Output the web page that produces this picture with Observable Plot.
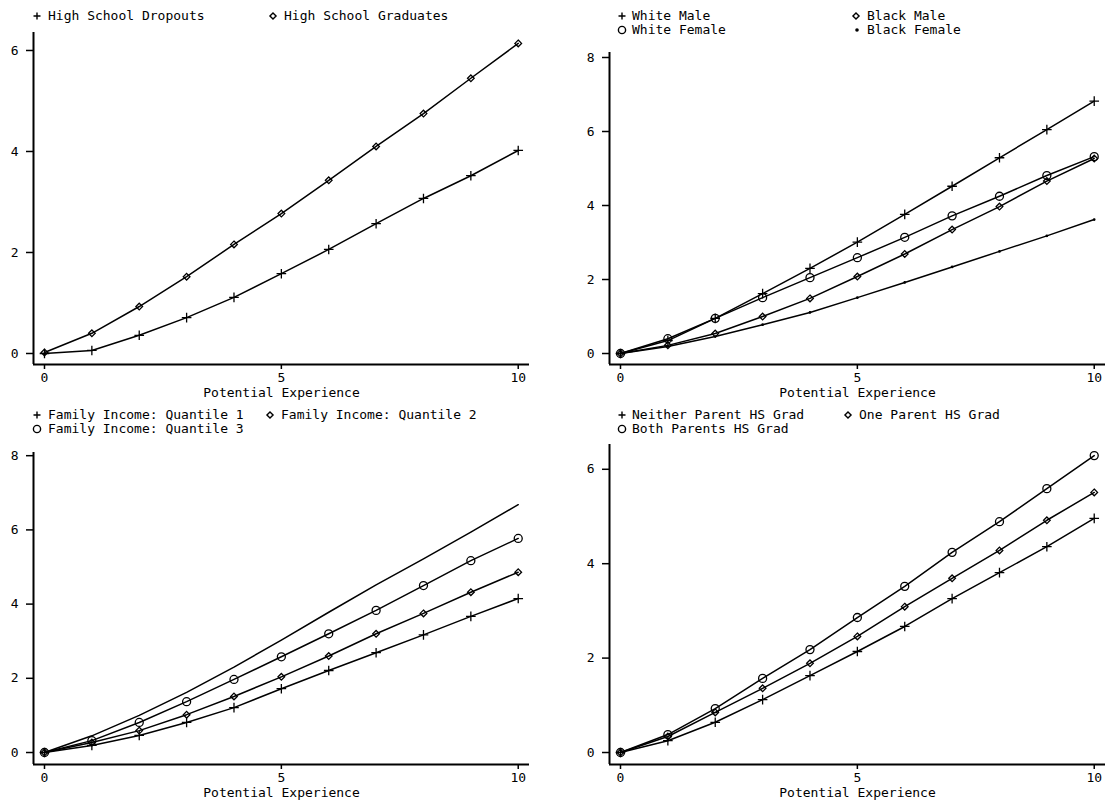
<!DOCTYPE html>
<html><head><meta charset="utf-8">
<script src="https://cdn.jsdelivr.net/npm/d3@7"></script>
<script src="https://cdn.jsdelivr.net/npm/@observablehq/plot@0.6"></script>
<style>
body{margin:0;background:#fff;}
#root{position:relative;width:1105px;height:801px;font-family:"DejaVu Sans Mono",monospace;color:#000;overflow:hidden;}
.panel{position:absolute;}
.legend{position:relative;}
.item{position:absolute;font-size:13px;line-height:14px;height:14px;white-space:pre;}
.icon{position:absolute;}
</style></head><body><div id="root"></div>
<script>
const experience = [0,1,2,3,4,5,6,7,8,9,10];
const xTicks = [0,5,10];
const xTitle = "Potential Experience";

// Panel 1
const hsDropouts  = [0, 0.06, 0.36, 0.71, 1.11, 1.58, 2.06, 2.57, 3.07, 3.52, 4.02];
const hsGraduates = [0.02, 0.40, 0.93, 1.52, 2.16, 2.77, 3.43, 4.10, 4.75, 5.45, 6.14];
// Panel 2
const whiteMale   = [0, 0.35, 0.95, 1.62, 2.30, 3.01, 3.76, 4.52, 5.29, 6.05, 6.82];
const whiteFemale = [0, 0.40, 0.95, 1.51, 2.05, 2.59, 3.14, 3.72, 4.25, 4.81, 5.32];
const blackMale   = [0, 0.22, 0.54, 1.00, 1.49, 2.08, 2.69, 3.35, 3.97, 4.66, 5.27];
const blackFemale = [0, 0.19, 0.46, 0.78, 1.11, 1.51, 1.92, 2.34, 2.76, 3.18, 3.62];
// Panel 3
const incomeQ1 = [0, 0.19, 0.46, 0.81, 1.21, 1.72, 2.21, 2.69, 3.17, 3.67, 4.15];
const incomeQ2 = [0, 0.27, 0.59, 1.02, 1.51, 2.04, 2.60, 3.20, 3.75, 4.32, 4.86];
const incomeQ3 = [0, 0.32, 0.81, 1.37, 1.97, 2.58, 3.20, 3.83, 4.50, 5.17, 5.77];
const incomeQ4 = [0, 0.45, 1.00, 1.62, 2.30, 3.03, 3.78, 4.52, 5.22, 5.94, 6.68];
// Panel 4
const neitherParent = [0, 0.25, 0.64, 1.12, 1.63, 2.14, 2.67, 3.26, 3.81, 4.36, 4.96];
const oneParent     = [0, 0.34, 0.85, 1.36, 1.89, 2.46, 3.09, 3.69, 4.28, 4.92, 5.51];
const bothParents   = [0, 0.38, 0.93, 1.57, 2.18, 2.86, 3.52, 4.24, 4.89, 5.59, 6.29];

const labels1 = ["High School Dropouts", "High School Graduates"];
const labels2 = ["White Male", "Black Male", "White Female", "Black Female"];
const labels3 = ["Family Income: Quantile 1", "Family Income: Quantile 2", "Family Income: Quantile 3"];
const labels4 = ["Neither Parent HS Grad", "One Parent HS Grad", "Both Parents HS Grad"];

const xDomain = [-0.232, 10.238];

const symStyle = {
  plus:    {symbol: "plus", r: 3.2, fill: "none"},
  diamond: {symbol: "diamond2", r: 3, fill: "none"},
  circle:  {symbol: "circle", r: 4, fill: "none"},
  dot:     {symbol: "circle", r: 0.7, fill: "black"},
  none: null
};

function iconSvg(kind) {
  const s = d3.create("svg").attr("width", 14).attr("height", 14).attr("viewBox", "-7 -7 14 14");
  if (kind === "plus") s.append("path").attr("d", "M-3.5,0H3.5M0,-3.5V3.5").attr("stroke", "black").attr("stroke-width", 1.4).attr("fill", "none");
  if (kind === "diamond") s.append("path").attr("d", d3.symbol(d3.symbolDiamond2, 24)()).attr("stroke", "black").attr("stroke-width", 1.4).attr("fill", "none");
  if (kind === "circle") s.append("circle").attr("r", 3.6).attr("stroke", "black").attr("stroke-width", 1.4).attr("fill", "none");
  if (kind === "dot") s.append("circle").attr("r", 1.8).attr("fill", "black");
  return s.node();
}

function makePanel(cfg) {
  const div = document.createElement("div");
  div.className = "panel";
  div.style.left = cfg.left + "px";
  div.style.top = cfg.top + "px";
  div.style.width = cfg.width + "px";
  const leg = document.createElement("div");
  leg.className = "legend";
  leg.style.height = cfg.legendH + "px";
  leg.style.width = cfg.width + "px";
  for (const it of cfg.legend) {
    const ic = iconSvg(it.kind);
    ic.classList.add("icon");
    ic.style.left = (it.ix - 7) + "px";
    ic.style.top = (it.y - 7) + "px";
    leg.appendChild(ic);
    const t = document.createElement("div");
    t.className = "item";
    t.textContent = it.label;
    t.style.left = it.tx + "px";
    t.style.top = (it.y - 7) + "px";
    leg.appendChild(t);
  }
  div.appendChild(leg);

  const yD = cfg.yDomain;
  const marks = [
    Plot.ruleX([xDomain[0]], {y1: yD[0], y2: yD[1], stroke: "black", strokeWidth: 2}),
    Plot.ruleY([yD[0]], {x1: xDomain[0], x2: xDomain[1], stroke: "black", strokeWidth: 2}),
    Plot.axisX({ticks: xTicks, tickFormat: d3.format("d"), tickSize: 5, tickPadding: 3, strokeWidth: 1.5, label: xTitle, labelAnchor: "center", labelArrow: "none", labelOffset: 32}),
    Plot.axisY({ticks: cfg.yTicks, tickFormat: d3.format("d"), tickSize: 7, tickPadding: 8, strokeWidth: 1.5, label: null})
  ];
  for (const s of cfg.series) {
    const rows = experience.map((x, i) => ({x, y: s.values[i]}));
    marks.push(Plot.line(rows, {x: "x", y: "y", stroke: "black", strokeWidth: 1.5}));
    const st = symStyle[s.kind];
    if (st) marks.push(Plot.dot(rows, {x: "x", y: "y", symbol: st.symbol, r: st.r, fill: st.fill, stroke: "black", strokeWidth: 1.3}));
  }
  const svg = Plot.plot({
    width: cfg.width,
    height: cfg.height - cfg.legendH,
    marginTop: cfg.mt,
    marginBottom: cfg.mb,
    marginLeft: 33,
    marginRight: cfg.mr,
    x: {domain: xDomain},
    y: {domain: yD},
    style: {fontFamily: "DejaVu Sans Mono", fontSize: "13px", color: "black", background: "white", overflow: "visible"},
    marks
  });
  div.appendChild(svg);
  document.getElementById("root").appendChild(div);
}

makePanel({
  left: 0, top: 0, width: 576, height: 400, legendH: 24, mt: 8, mb: 36, mr: 47,
  yDomain: [-0.218, 6.356], yTicks: [0,2,4,6],
  legend: [
    {kind: "plus", ix: 37, tx: 48, y: 16, label: labels1[0]},
    {kind: "diamond", ix: 273, tx: 284, y: 16, label: labels1[1]}
  ],
  series: [
    {kind: "plus", values: hsDropouts},
    {kind: "diamond", values: hsGraduates}
  ]
});

makePanel({
  left: 576, top: 0, width: 529, height: 400, legendH: 40, mt: 12, mb: 36, mr: 0,
  yDomain: [-0.297, 8.135], yTicks: [0,2,4,6,8],
  legend: [
    {kind: "plus", ix: 46, tx: 56, y: 16, label: labels2[0]},
    {kind: "diamond", ix: 280, tx: 291, y: 16, label: labels2[1]},
    {kind: "circle", ix: 46, tx: 56, y: 30, label: labels2[2]},
    {kind: "dot", ix: 281, tx: 291, y: 30, label: labels2[3]}
  ],
  series: [
    {kind: "plus", values: whiteMale},
    {kind: "diamond", values: blackMale},
    {kind: "circle", values: whiteFemale},
    {kind: "dot", values: blackFemale}
  ]
});

makePanel({
  left: 0, top: 400, width: 576, height: 401, legendH: 40, mt: 12, mb: 37, mr: 47,
  yDomain: [-0.323, 8.086], yTicks: [0,2,4,6,8],
  legend: [
    {kind: "plus", ix: 37, tx: 48, y: 15, label: labels3[0]},
    {kind: "diamond", ix: 270, tx: 281, y: 15, label: labels3[1]},
    {kind: "circle", ix: 37, tx: 48, y: 29, label: labels3[2]}
  ],
  series: [
    {kind: "plus", values: incomeQ1},
    {kind: "diamond", values: incomeQ2},
    {kind: "circle", values: incomeQ3},
    {kind: "none", values: incomeQ4}
  ]
});

makePanel({
  left: 576, top: 400, width: 529, height: 401, legendH: 40, mt: 4, mb: 37, mr: 0,
  yDomain: [-0.254, 6.525], yTicks: [0,2,4,6],
  legend: [
    {kind: "plus", ix: 46, tx: 56, y: 15, label: labels4[0]},
    {kind: "diamond", ix: 272, tx: 283, y: 15, label: labels4[1]},
    {kind: "circle", ix: 46, tx: 56, y: 29, label: labels4[2]}
  ],
  series: [
    {kind: "plus", values: neitherParent},
    {kind: "diamond", values: oneParent},
    {kind: "circle", values: bothParents}
  ]
});
</script>
</body></html>
